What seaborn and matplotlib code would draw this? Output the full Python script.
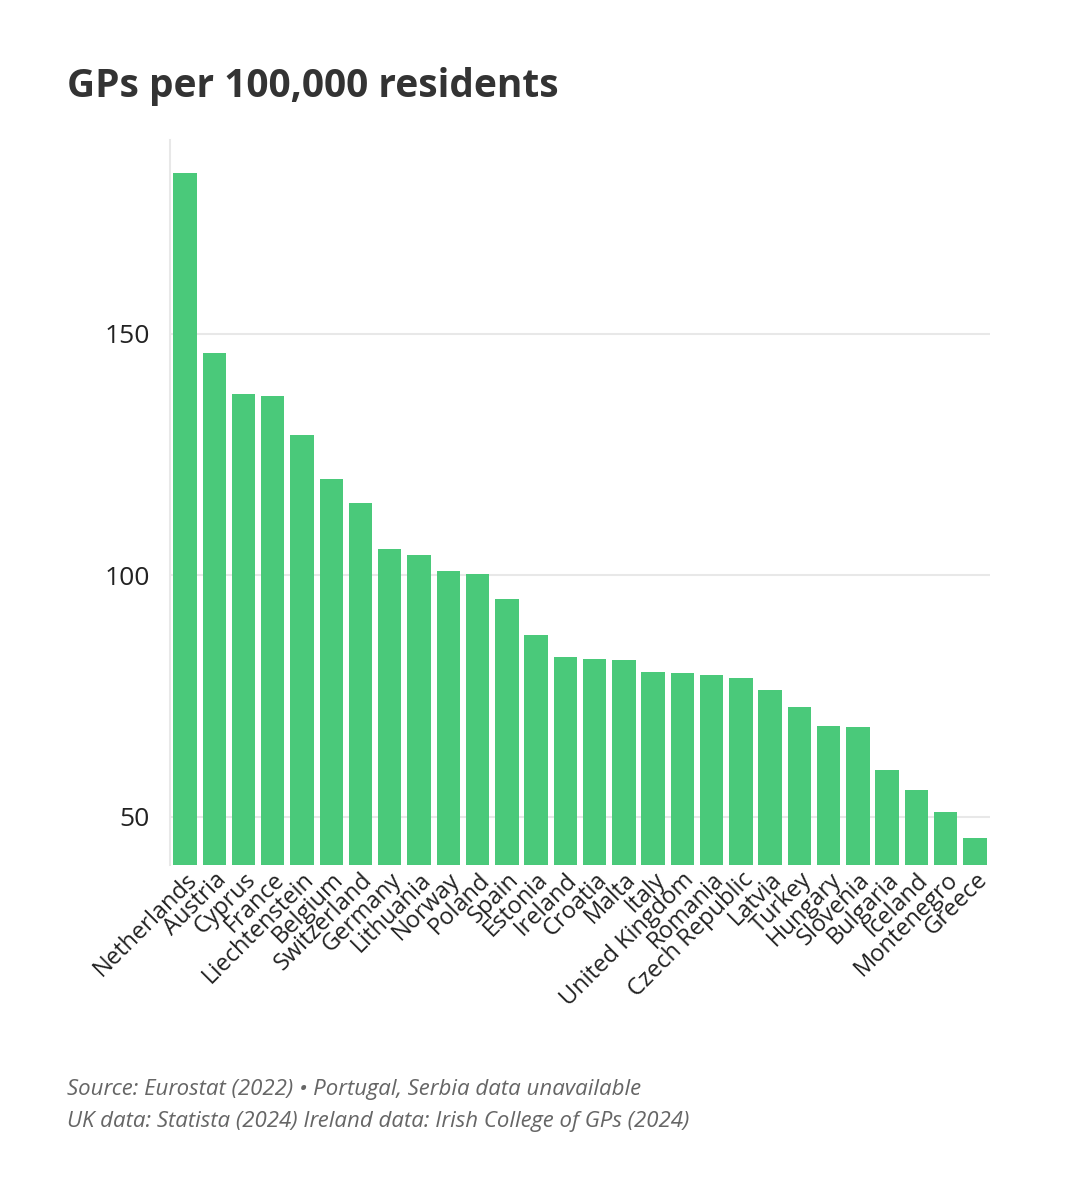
import matplotlib
matplotlib.use("Agg")
import matplotlib.pyplot as plt
import seaborn as sns
import pandas as pd

countries = ["Netherlands", "Austria", "Cyprus", "France", "Liechtenstein", "Belgium",
             "Switzerland", "Germany", "Lithuania", "Norway", "Poland", "Spain", "Estonia",
             "Ireland", "Croatia", "Malta", "Italy", "United Kingdom", "Romania",
             "Czech Republic", "Latvia", "Turkey", "Hungary", "Slovenia", "Bulgaria",
             "Iceland", "Montenegro", "Greece"]
gps = [183.3, 146.1, 137.6, 137.2, 129.1, 120.0, 114.9, 105.4, 104.1, 100.8, 100.2,
       95.0, 87.6, 83.1, 82.6, 82.4, 80.0, 79.8, 79.3, 78.7, 76.2, 72.7, 68.8, 68.6,
       59.7, 55.6, 51.0, 45.7]
yticks = [50, 100, 150]

df = pd.DataFrame({"country": countries, "gps": gps})

plt.rcParams["font.family"] = "Open Sans"
dpi = 100
fig = plt.figure(figsize=(1078 / dpi, 1190 / dpi), dpi=dpi)
ax = fig.add_axes([0.158, 0.273, 0.76, 0.609])

sns.barplot(data=df, x="country", y="gps", ax=ax, color="#4ac97a", saturation=1,
            width=0.8, zorder=3)

ax.set_ylim(40, 190)
ax.set_xlim(-0.5, len(countries) - 0.5)
ax.set_yticks(yticks)
ax.set_yticklabels([str(t) for t in yticks], fontsize=19, color="#222222")
ax.yaxis.grid(True, color="#e8e8e8", linewidth=1.5, zorder=0)
ax.tick_params(axis="y", length=0, pad=15)
ax.tick_params(axis="x", length=0, pad=2)
ax.set_xticks(range(len(countries)))
ax.set_xticklabels(countries, rotation=45, ha="right", rotation_mode="anchor",
                   fontsize=17, color="#222222")
ax.set_xlabel("")
ax.set_ylabel("")
for s in ["top", "right", "bottom"]:
    ax.spines[s].set_visible(False)
ax.spines["left"].set_color("#e8e8e8")
ax.spines["left"].set_linewidth(1.5)

fig.text(67 / 1078, 1 - 87 / 1190, "GPs per 100,000 residents", fontsize=28,
         fontweight="bold", color="#333333", ha="left", va="center")
fig.text(67 / 1078, 1 - 1089 / 1190,
         "Source: Eurostat (2022) • Portugal, Serbia data unavailable",
         fontsize=16, style="italic", color="#666666", ha="left", va="center")
fig.text(67 / 1078, 1 - 1121 / 1190,
         "UK data: Statista (2024) Ireland data: Irish College of GPs (2024)",
         fontsize=16, style="italic", color="#666666", ha="left", va="center")

fig.savefig("out.png", dpi=dpi, facecolor="white")
